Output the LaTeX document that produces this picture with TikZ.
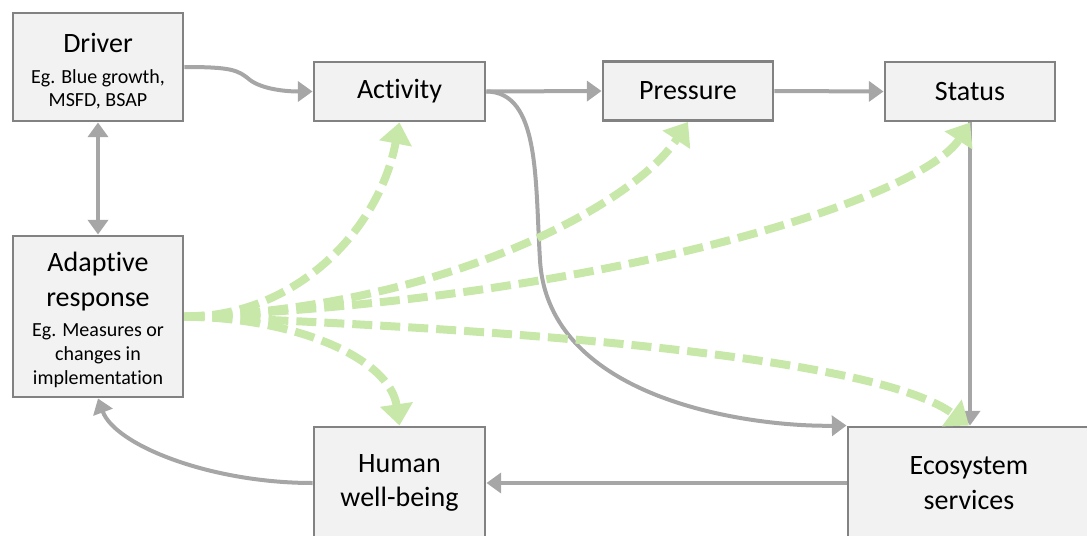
\documentclass[tikz,border=0pt]{standalone}
\usepackage{fontspec}
\setmainfont{Carlito}[Ligatures=NoCommon]
\usetikzlibrary{arrows.meta}

\definecolor{linegray}{RGB}{166,166,166}
\definecolor{boxedge}{RGB}{130,130,130}
\definecolor{boxfill}{RGB}{242,242,242}
\definecolor{respgreen}{RGB}{200,232,170}

\newcommand{\labelbig}{\fontsize{21}{26}\selectfont}
% small text: fixed baseline distance, no interline correction
\newcommand{\labelsmall}{\fontsize{15}{17.5}\selectfont\lineskiplimit=-50pt\relax}

\begin{document}
\begin{tikzpicture}[x=0.75pt,y=-0.75pt,
  stage/.style={draw=boxedge, fill=boxfill, line width=2.2pt, inner sep=0pt,
    align=center, text=black, font=\labelbig},
  mixedtext/.style={inner sep=0pt, align=center, text=black, font=\labelsmall},
  flow/.style={draw=linegray, line width=3pt, -{Triangle[length=11pt,width=15pt]}},
  twoway/.style={flow, {Triangle[length=11pt,width=15pt]}-{Triangle[length=11pt,width=15pt]}},
  resp/.style={draw=respgreen, line width=6pt, dash pattern=on 15pt off 6pt,
    -{Triangle[length=16pt,width=24pt]}}
]
\useasboundingbox (0,0) rectangle (1087,535);
\clip (0,0) rectangle (1087,535);

% DAPSIR stages
\node[stage, minimum width=127.5pt, minimum height=81pt] (driver) at (98,67) {};
\node[mixedtext] (drivertext) at (98,71)
  {{\labelbig Driver}\\[5.5pt]Eg. Blue growth,\\MSFD, BSAP};
\node[stage, minimum width=128.25pt, minimum height=44.25pt] (activity) at (399.5,91.5) {Activity};
\node[stage, minimum width=127.5pt, minimum height=44.25pt] (pressure) at (688,91) {Pressure};
\node[stage, minimum width=127.5pt, minimum height=44.25pt] (status) at (970,91.5) {Status};
\node[stage, minimum width=127.5pt, minimum height=120.75pt] (adaptive) at (98,316.5) {};
\node[mixedtext] (adaptivetext) at (98,320)
  {{\labelbig Adaptive}\\[8.5pt]{\labelbig response}\\[5pt]Eg. Measures or\\[0.5pt]changes in\\[0.5pt]implementation};
\node[stage, minimum width=128.25pt, minimum height=84pt] (human) at (399.5,483) {Human\\well-being};
\node[stage, minimum width=181.5pt, minimum height=84pt] (eco) at (969,483) {Ecosystem\\services};

% causal chain
\draw[flow] (driver.east) .. controls (232,67) and (238,70) .. (250,80)
  .. controls (262,89) and (285,91.5) .. (activity.west);
\draw[twoway] (driver.south) -- (adaptive.north);
\draw[flow] (activity.east) -- (pressure.west);
\draw[flow] (pressure.east) -- (status.west);
\draw[flow] (status.south) -- (status.south |- eco.north);
\draw[flow] (eco.west) -- (human.east);
\draw[flow] (human.west) .. controls (210,483) and (115,445) .. (adaptive.south);
\draw[flow] (activity.east) .. controls (540,92) and (535,180) .. (540,260)
  .. controls (548,400) and (750,427) .. (eco.north west);

% responses acting on the chain
\draw[resp] (adaptive.east) .. controls (290,318) and (378,235) .. (activity.south);
\draw[resp] (adaptive.east) .. controls (430,310) and (630,210) .. (pressure.south);
\draw[resp] (adaptive.east) .. controls (600,300) and (920,200) .. (status.south);
\draw[resp] (adaptive.east) .. controls (550,330) and (880,360) .. (eco.north);
\draw[resp] (adaptive.east) .. controls (300,318) and (390,360) .. (human.north);
\end{tikzpicture}
\end{document}
